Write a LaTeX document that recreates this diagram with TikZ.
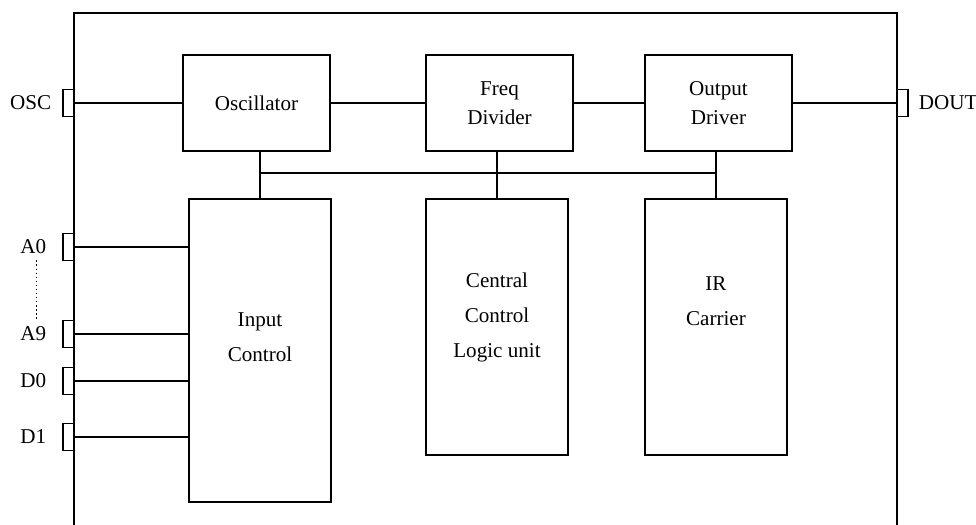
\documentclass[tikz,border=0pt]{standalone}
\usepackage{fontspec}
\setmainfont{Liberation Serif}
\usetikzlibrary{positioning}

\tikzstyle{block} = [draw, rectangle, line width=0.9pt, minimum width=3.675cm, minimum height=2.4cm, text centered, align=center, inner sep=0pt, font=\fontsize{15}{21}\selectfont]
\tikzstyle{tallblock} = [draw, rectangle, line width=0.9pt, minimum width=3.55cm, inner sep=0pt]
\tikzstyle{blocktext} = [align=center, inner sep=0pt, font=\fontsize{15}{25}\selectfont]
\tikzstyle{chippin} = [draw, rectangle, line width=0.9pt, minimum width=0.275cm, minimum height=0.675cm, inner sep=0pt]
\tikzstyle{pinlabel} = [inner sep=0pt, font=\fontsize{15}{18}\selectfont]
\tikzstyle{wire} = [line width=0.9pt]

\begin{document}
\begin{tikzpicture}[x=0.025cm, y=-0.025cm]
\useasboundingbox (0,0) rectangle (976,525);

% Chip outline
\draw [wire] (74,525) -- (74,13) -- (897,13) -- (897,525);

% Top row
\node (osc) [block] at (256.5,103) {Oscillator};
\node (freq) [block] at (499.5,103) {Freq\\Divider};
\node (out) [block] at (718.5,103) {Output\\Driver};

% Bottom row
\node (inctl) [tallblock, minimum height=7.575cm] at (260,350.5) {};
\node (ccl) [tallblock, minimum height=6.4cm] at (497,327) {};
\node (ir) [tallblock, minimum height=6.4cm] at (716,327) {};
\node (inctltext) [blocktext] at (260,337.5) {Input\\Control};
\node (ccltext) [blocktext] at (497,317.5) {Central\\Control\\Logic unit};
\node (irtext) [blocktext] at (716,301.5) {IR\\Carrier};

% Pins
\node (oscpin) [chippin] at (68.5,103) {};
\node (a0pin) [chippin] at (68.5,247) {};
\node (a9pin) [chippin] at (68.5,334) {};
\node (d0pin) [chippin] at (68.5,381) {};
\node (d1pin) [chippin] at (68.5,437) {};
\node (doutpin) [chippin] at (902.5,103) {};

\node (osclab) [pinlabel, left=0.275cm of oscpin] {OSC};
\node (a0lab) [pinlabel, left=0.4cm of a0pin] {A0};
\node (a9lab) [pinlabel, left=0.4cm of a9pin] {A9};
\node (d0lab) [pinlabel, left=0.4cm of d0pin] {D0};
\node (d1lab) [pinlabel, left=0.4cm of d1pin] {D1};
\node (doutlab) [pinlabel, right=0.25cm of doutpin] {DOUT};
\draw [dotted, line width=0.9pt, shorten >=0.15cm, shorten <=0.15cm] ([xshift=0.075cm]a0lab.south) -- ([xshift=0.075cm]a9lab.north);

% Wires
\draw [wire] (oscpin) -- (osc);
\draw [wire] (osc) -- (freq);
\draw [wire] (freq) -- (out);
\draw [wire] (out) -- (doutpin);
\draw [wire] (a0pin) -- (a0pin -| inctl.west);
\draw [wire] (a9pin) -- (a9pin -| inctl.west);
\draw [wire] (d0pin) -- (d0pin -| inctl.west);
\draw [wire] (d1pin) -- (d1pin -| inctl.west);

% Bus
\coordinate (bus) at (0,173);
\draw [wire] (osc.south -| inctl.north) -- (inctl.north);
\draw [wire] (freq.south -| ccl.north) -- (ccl.north);
\draw [wire] (out.south -| ir.north) -- (ir.north);
\draw [wire] (bus -| inctl.north) -- (bus -| ir.north);

\end{tikzpicture}
\end{document}
